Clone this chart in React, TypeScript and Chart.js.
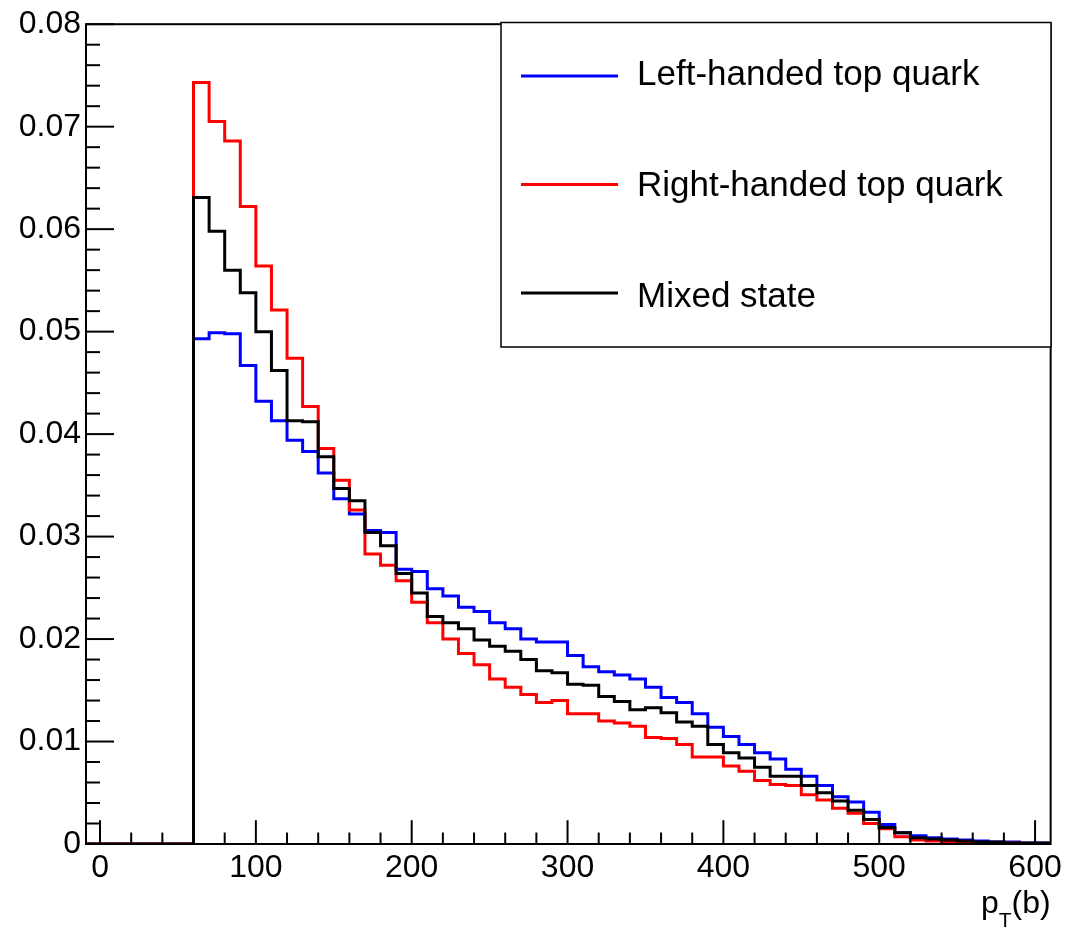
import React, { useEffect, useRef } from "react";
import { Chart, registerables } from "chart.js";

Chart.register(...registerables);

// ---- Data ----
const xMin = -9;
const xMax = 610;
const binStart = 60;
const binWidth = 10;
const xTickValues = [0, 100, 200, 300, 400, 500, 600];
const yTickValues = [0, 0.01, 0.02, 0.03, 0.04, 0.05, 0.06, 0.07, 0.08];
const seriesLabels = ["Left-handed top quark", "Right-handed top quark", "Mixed state"];
const seriesColors = ["#0000ff", "#ff0000", "#000000"];

// bins 60-70, 70-80, ..., 600-610
const leftHanded = [
  0.0493, 0.0499, 0.0498, 0.0467, 0.0432, 0.0413, 0.0394, 0.0383, 0.0362, 0.0337,
  0.0322, 0.0306, 0.0304, 0.0268, 0.0266, 0.0249, 0.0242, 0.0231, 0.0227, 0.0216,
  0.0210, 0.0200, 0.0197, 0.0197, 0.0184, 0.0173, 0.0168, 0.0165, 0.0161, 0.0153,
  0.0143, 0.0138, 0.0127, 0.0114, 0.0105, 0.0097, 0.0089, 0.0083, 0.0073, 0.0066,
  0.0057, 0.0046, 0.0041, 0.0031, 0.0019, 0.0011, 0.0008, 0.0006, 0.0005, 0.0004,
  0.0003, 0.0002, 0.0002, 0.0001, 0.0001,
];
const rightHanded = [
  0.0743, 0.0705, 0.0686, 0.0622, 0.0564, 0.0521, 0.0474, 0.0427, 0.0386, 0.0355,
  0.0326, 0.0283, 0.0272, 0.0257, 0.0236, 0.0216, 0.0200, 0.0186, 0.0175, 0.0161,
  0.0153, 0.0146, 0.0138, 0.0140, 0.0127, 0.0127, 0.0120, 0.0118, 0.0115, 0.0104,
  0.0103, 0.0097, 0.0085, 0.0085, 0.0076, 0.0071, 0.0062, 0.0058, 0.0057, 0.0048,
  0.0043, 0.0035, 0.0030, 0.0020, 0.0015, 0.0007, 0.0004, 0.0003, 0.0002, 0.0002,
  0.0001, 0.0001, 0.0001, 0.0, 0.0,
];
const mixedState = [
  0.0631, 0.0598, 0.0560, 0.0538, 0.0500, 0.0462, 0.0413, 0.0412, 0.0378, 0.0347,
  0.0335, 0.0304, 0.0291, 0.0264, 0.0245, 0.0222, 0.0216, 0.0210, 0.0199, 0.0193,
  0.0188, 0.0180, 0.0169, 0.0167, 0.0156, 0.0155, 0.0144, 0.0139, 0.0131, 0.0133,
  0.0128, 0.0119, 0.0115, 0.0097, 0.0089, 0.0084, 0.0075, 0.0066, 0.0066, 0.0057,
  0.0050, 0.0042, 0.0033, 0.0024, 0.0016, 0.0011, 0.0006, 0.0005, 0.0004, 0.0003,
  0.0002, 0.0002, 0.0001, 0.0001, 0.0001,
];

const FONT = '"Liberation Sans", Arial, Helvetica, sans-serif';

function toSteps(values: number[]) {
  const pts: { x: number; y: number }[] = [{ x: xMin, y: 0 }];
  values.forEach((v, i) => pts.push({ x: binStart + i * binWidth, y: v }));
  pts.push({ x: binStart + values.length * binWidth, y: values[values.length - 1] });
  return pts;
}

const rootPlugin = {
  id: "rootStyle",
  afterDraw(chart: any) {
    const ctx: CanvasRenderingContext2D = chart.ctx;
    const a = chart.chartArea;
    const xs = chart.scales.x;
    const ys = chart.scales.y;
    ctx.save();
    // frame
    ctx.strokeStyle = "#000";
    ctx.lineWidth = 2;
    ctx.strokeRect(a.left, a.top, a.right - a.left, a.bottom - a.top);
    // x ticks (inside)
    const h = a.bottom - a.top;
    const w = a.right - a.left;
    for (let v = 0; v <= xMax; v += 20) {
      const px = xs.getPixelForValue(v);
      if (px < a.left || px > a.right) continue;
      const len = v % 100 === 0 ? h * 0.029 : h * 0.014;
      ctx.beginPath();
      ctx.moveTo(px, a.bottom);
      ctx.lineTo(px, a.bottom - len);
      ctx.stroke();
    }
    // y ticks (inside)
    for (let i = 0; i <= 40; i++) {
      const v = i * 0.002;
      const py = ys.getPixelForValue(v);
      const len = i % 5 === 0 ? w * 0.029 : w * 0.0145;
      ctx.beginPath();
      ctx.moveTo(a.left, py);
      ctx.lineTo(a.left + len, py);
      ctx.stroke();
    }
    // legend
    const lx0 = 501, ly0 = 22.5, lx1 = 1051, ly1 = 347;
    ctx.fillStyle = "#fff";
    ctx.fillRect(lx0, ly0, lx1 - lx0, ly1 - ly0);
    ctx.lineWidth = 1.5;
    ctx.strokeStyle = "#000";
    ctx.strokeRect(lx0, ly0, lx1 - lx0, ly1 - ly0);
    const lineRows = [76, 184.5, 293];
    const textRows = [84.5, 195.5, 306.5];
    ctx.font = `35px ${FONT}`;
    ctx.textAlign = "left";
    ctx.textBaseline = "alphabetic";
    seriesLabels.forEach((lab, i) => {
      ctx.strokeStyle = seriesColors[i];
      ctx.lineWidth = 3;
      ctx.beginPath();
      ctx.moveTo(521, lineRows[i]);
      ctx.lineTo(618, lineRows[i]);
      ctx.stroke();
      ctx.fillStyle = "#000";
      ctx.fillText(lab, 637, textRows[i]);
    });
    // axis title p_T(b), right aligned
    const big = `32px ${FONT}`;
    const small = `21px ${FONT}`;
    ctx.font = big;
    const wp = ctx.measureText("p").width;
    const wb = ctx.measureText("(b)").width;
    ctx.font = small;
    const wt = ctx.measureText("T").width;
    const baseY = 913;
    let x = a.right - (wp + wt + wb);
    ctx.fillStyle = "#000";
    ctx.font = big;
    ctx.fillText("p", x, baseY);
    x += wp;
    ctx.font = small;
    ctx.fillText("T", x, baseY + 14);
    x += wt;
    ctx.font = big;
    ctx.fillText("(b)", x, baseY);
    ctx.restore();
  },
};

export default function App() {
  const ref = useRef<HTMLCanvasElement | null>(null);
  useEffect(() => {
    if (!ref.current) return;
    const font = { family: FONT, size: 32 };
    const chart = new Chart(ref.current, {
      type: "line",
      data: {
        datasets: [
          {
            label: seriesLabels[2],
            data: toSteps(mixedState),
            borderColor: seriesColors[2],
            stepped: "before",
            order: 0,
          },
          {
            label: seriesLabels[1],
            data: toSteps(rightHanded),
            borderColor: seriesColors[1],
            stepped: "before",
            order: 1,
          },
          {
            label: seriesLabels[0],
            data: toSteps(leftHanded),
            borderColor: seriesColors[0],
            stepped: "before",
            order: 2,
          },
        ],
      },
      options: {
        animation: false,
        responsive: false,
        maintainAspectRatio: false,
        layout: { padding: { left: 0, top: 24, right: 15, bottom: 0 } },
        plugins: { legend: { display: false }, tooltip: { enabled: false } },
        elements: {
          point: { radius: 0 },
          line: { borderWidth: 3, tension: 0, fill: false },
        },
        scales: {
          x: {
            type: "linear",
            min: xMin,
            max: xMax,
            grid: { display: false, drawTicks: false },
            border: { display: false },
            ticks: {
              padding: 5,
              color: "#000",
              font,
              maxRotation: 0,
              autoSkip: false,
              callback: (v: any) => String(v),
            },
            afterBuildTicks: (s: any) => {
              s.ticks = xTickValues.map((v) => ({ value: v }));
            },
            afterFit: (s: any) => {
              s.height = 85;
            },
          },
          y: {
            type: "linear",
            min: 0,
            max: 0.08,
            grid: { display: false, drawTicks: false },
            border: { display: false },
            ticks: {
              padding: 5,
              color: "#000",
              font,
              autoSkip: false,
              callback: (v: any) => (Number(v) === 0 ? "0" : Number(v).toFixed(2)),
            },
            afterBuildTicks: (s: any) => {
              s.ticks = yTickValues.map((v) => ({ value: v }));
            },
            afterFit: (s: any) => {
              s.width = 86;
            },
          },
        },
      } as any,
      plugins: [rootPlugin],
    });
    return () => chart.destroy();
  }, []);
  return (
    <div style={{ position: "absolute", left: 0, top: 0, width: 1067, height: 929, background: "#fff" }}>
      <canvas ref={ref} width={1067} height={929} style={{ display: "block", width: 1067, height: 929 }} />
    </div>
  );
}
